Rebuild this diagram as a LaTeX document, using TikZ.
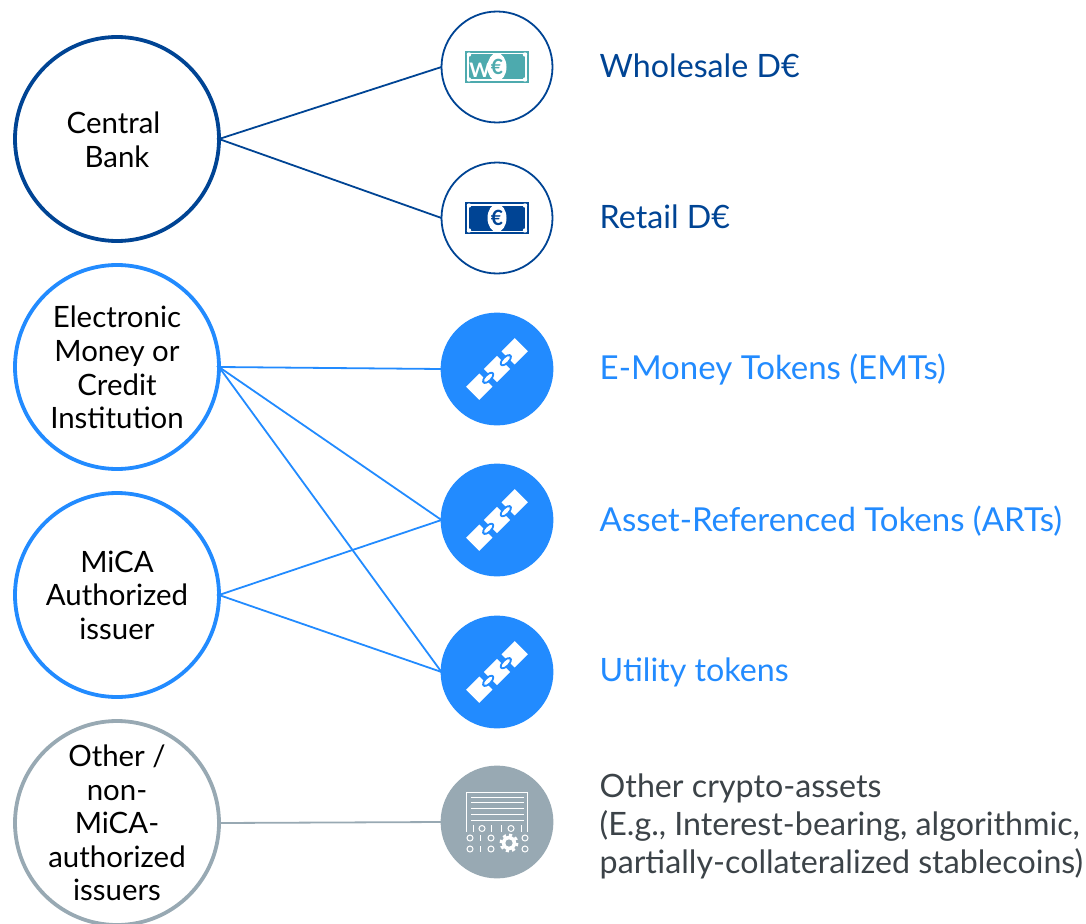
\documentclass[tikz,border=0pt]{standalone}
\usepackage{fontspec}
\setmainfont{Lato}
\definecolor{bankblue}{HTML}{004494}
\definecolor{tokenblue}{HTML}{228BFF}
\definecolor{othergray}{HTML}{98A9B3}
\definecolor{inktext}{HTML}{3C4348}
\definecolor{billteal}{HTML}{4DAAAE}
\tikzset{
	ring/.style = {circle, draw, inner sep=0pt, outer sep=0pt, minimum size=204pt, line width=3.8pt},
	disc/.style = {circle, draw, inner sep=0pt, outer sep=0pt, minimum size=111pt, line width=1.8pt},
	ringtext/.style = {align=center, inner sep=0pt, text=black, font=\fontsize{29.4}{33.6}\selectfont},
	tag/.style = {anchor=west, inner sep=0pt, align=left, font=\fontsize{32.2}{38.2}\selectfont},
	widetag/.style = {tag, font=\fontsize{33}{38.2}\selectfont},
	link/.style = {line width=1.8pt},
	pics/billicon/.style = {code={
		\draw[#1, line width=1.2pt] (-31,-15) rectangle (31,15);
		\fill[#1] (-28,-12.5) rectangle (28,12.5);
		\foreach \sx in {-28,28} \foreach \sy in {-12.5,12.5} \fill[white] (\sx,\sy) circle (2.2);
		\fill[white] (0,0) ellipse [x radius=9.5, y radius=14];
	}},
	pics/chainicon/.style = {code={
		\begin{scope}[rotate=45]
			\foreach \sx in {-25,0,25} \fill[white] (\sx-9.3,-9.3) rectangle (\sx+9.3,9.3);
			\foreach \sx in {-12.5,12.5} {
				\fill[tokenblue] (\sx,0) ellipse [x radius=7.5, y radius=4];
				\fill[white] (\sx,0) ellipse [x radius=5.5, y radius=2];
			}
		\end{scope}
	}},
	pics/dataicon/.style = {code={
		\draw[white, line width=1pt] (-30.5,10) -- (-30.5,-30) -- (30.5,-30) -- (30.5,10);
		\foreach \ly in {-25,-20,-14,-8,-2} \draw[white, line width=1pt] (-26,\ly) -- (27,\ly);
		\foreach \lx in {-24,-6,4,24} \draw[white, line width=1pt] (\lx,3) -- (\lx,10);
		\foreach \lx in {-15,14} \draw[white, line width=1pt] (\lx,6.5) circle (3);
		\foreach \ly in {16,27} {
			\foreach \lx in {-27,-6,28} \draw[white, line width=1pt] (\lx,\ly) circle (3);
			\draw[white, line width=1pt] (-17,\ly-3) -- (-17,\ly+3);
		}
		\draw[white, line width=2.5pt, dash pattern=on 3.2pt off 3.2pt] (12,21) circle (8.2);
		\fill[white] (12,21) circle (7.2);
		\fill[othergray] (12,21) circle (3.6);
	}}
}
\begin{document}
\begin{tikzpicture}[x=1pt, y=-1pt]
	\useasboundingbox (0,0) rectangle (1086,923);
	%issuers on the left
	\node[ring, bankblue] (central) at (117,139) {};
	\node[ring, tokenblue] (emoney) at (117,367) {};
	\node[ring, tokenblue] (mica) at (117,595) {};
	\node[ring, othergray] (other) at (117,823) {};
	\node[ringtext] (centraltext) at (117,140) {Central\hspace*{7pt}\\Bank};
	\node[ringtext] (emoneytext) at (117,367.5) {Electronic\\Money or\\Credit\\Institution};
	\node[ringtext] (micatext) at (117,595) {MiCA\\Authorized\\issuer};
	\node[ringtext] (othertext) at (117,823) {Other /\\non-\\MiCA-\\authorized\\issuers};
	%assets on the right
	\node[disc, bankblue, fill=white] (wholesale) at (497,67) {};
	\node[disc, bankblue, fill=white] (retail) at (497,218) {};
	\node[disc, tokenblue, fill=tokenblue] (emt) at (497,369) {};
	\node[disc, tokenblue, fill=tokenblue] (art) at (497,520) {};
	\node[disc, tokenblue, fill=tokenblue] (utility) at (497,672) {};
	\node[disc, othergray, fill=othergray] (crypto) at (497,822) {};
	%connectors
	\draw[bankblue, link] (wholesale.west) -- (central.east) -- (retail.west);
	\draw[tokenblue, link] (emt.west) -- (emoney.east) -- (art.west);
	\draw[tokenblue, link] (emoney.east) -- (utility.west);
	\draw[tokenblue, link] (art.west) -- (mica.east) -- (utility.west);
	\draw[othergray, link] (other.east) -- (crypto.west);
	%icons
	\pic at (wholesale) {billicon=billteal};
	\node[text=white, inner sep=0pt, font=\fontsize{20}{20}\selectfont\bfseries] (wholesalew) at (480,70.5) {W};
	\node[text=billteal, inner sep=0pt, font=\fontsize{21}{21}\selectfont\bfseries] (wholesaleeuro) at (497,67) {€};
	\pic at (retail) {billicon=bankblue};
	\node[text=bankblue, inner sep=0pt, font=\fontsize{21}{21}\selectfont\bfseries] (retaileuro) at (497,218) {€};
	\pic at (emt) {chainicon};
	\pic at (art) {chainicon};
	\pic at (utility) {chainicon};
	\pic at (crypto) {dataicon};
	%labels
	\node[tag, text=bankblue] (wholesaletag) at (599.5,66) {Wholesale D€};
	\node[tag, text=bankblue] (retailtag) at (599.5,217) {Retail D€};
	\node[widetag, text=tokenblue] (emttag) at (599.5,370) {E-Money Tokens (EMTs)};
	\node[widetag, text=tokenblue] (arttag) at (599.5,521) {Asset-Referenced Tokens (ARTs)};
	\node[tag, text=tokenblue] (utilitytag) at (599.5,672) {Utility tokens};
	\node[tag, text=inktext] (cryptotag) at (599.5,826.5) {Other crypto-assets\\(E.g., Interest-bearing, algorithmic,\\partially-collateralized stablecoins)};
\end{tikzpicture}
\end{document}
